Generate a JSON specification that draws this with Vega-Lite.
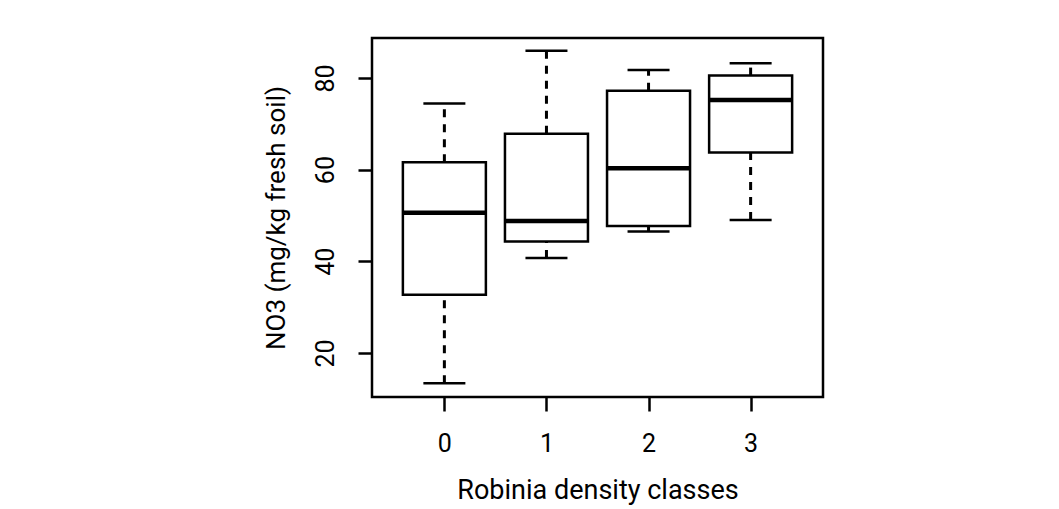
{
  "$schema": "https://vega.github.io/schema/vega-lite/v6.json",
  "width": 451,
  "height": 359,
  "autosize": "none",
  "padding": {"left": 372, "top": 38, "right": 236, "bottom": 112},
  "background": "white",
  "config": {
    "view": {"stroke": "black", "strokeWidth": 2.5},
    "font": "Roboto"
  },
  "data": {
    "values": [
      {"g": 0, "lower": 13.4, "q1": 32.7, "median": 50.6, "q3": 61.6, "upper": 74.4},
      {"g": 1, "lower": 40.7, "q1": 44.3, "median": 48.8, "q3": 67.8, "upper": 85.9},
      {"g": 2, "lower": 46.5, "q1": 47.7, "median": 60.3, "q3": 77.2, "upper": 81.7},
      {"g": 3, "lower": 49.0, "q1": 63.7, "median": 75.2, "q3": 80.5, "upper": 83.2}
    ]
  },
  "encoding": {
    "x": {
      "field": "g",
      "type": "quantitative",
      "scale": {"domain": [-0.66, 3.66], "nice": false, "zero": false},
      "axis": {
        "values": [0, 1, 2, 3],
        "grid": false,
        "domain": false,
        "tickColor": "black",
        "tickWidth": 2.5,
        "tickSize": 14,
        "labelFontSize": 25,
        "labelColor": "black",
        "labelPadding": 20,
        "labelFont": "Roboto",
        "title": "Robinia density classes",
        "titleFont": "Roboto",
        "titleFontSize": 27,
        "titleFontWeight": "normal",
        "titleColor": "black",
        "titlePadding": 21
      }
    }
  },
  "layer": [
    {
      "mark": {"type": "rule", "stroke": "black", "strokeWidth": 3, "strokeDash": [8, 7]},
      "encoding": {
        "y": {
          "field": "q3",
          "type": "quantitative",
          "scale": {"domain": [10.4, 88.7], "nice": false, "zero": false},
          "axis": {
            "values": [20, 40, 60, 80],
            "grid": false,
            "domain": false,
            "tickColor": "black",
            "tickWidth": 2.5,
            "tickSize": 14,
            "labelAngle": -90,
            "labelFontSize": 25,
            "labelColor": "black",
            "labelPadding": 20,
            "labelFont": "Roboto",
            "title": "NO3 (mg/kg fresh soil)",
            "titleFont": "Roboto",
            "titleFontSize": 26,
            "titleFontWeight": "normal",
            "titleColor": "black",
            "titlePadding": 24
          }
        },
        "y2": {"field": "upper"}
      }
    },
    {
      "mark": {"type": "rule", "stroke": "black", "strokeWidth": 3, "strokeDash": [8, 7]},
      "encoding": {
        "y": {"field": "lower", "type": "quantitative"},
        "y2": {"field": "q1"}
      }
    },
    {
      "mark": {"type": "bar", "fill": "white", "stroke": "black", "strokeWidth": 2.5, "size": 83},
      "encoding": {
        "y": {"field": "q1", "type": "quantitative"},
        "y2": {"field": "q3"}
      }
    },
    {
      "mark": {"type": "tick", "orient": "horizontal", "color": "black", "size": 83, "thickness": 4.5, "opacity": 1},
      "encoding": {
        "y": {"field": "median", "type": "quantitative"}
      }
    },
    {
      "mark": {"type": "tick", "orient": "horizontal", "color": "black", "size": 42, "thickness": 2.5, "opacity": 1},
      "encoding": {
        "y": {"field": "upper", "type": "quantitative"}
      }
    },
    {
      "mark": {"type": "tick", "orient": "horizontal", "color": "black", "size": 42, "thickness": 2.5, "opacity": 1},
      "encoding": {
        "y": {"field": "lower", "type": "quantitative"}
      }
    }
  ]
}
